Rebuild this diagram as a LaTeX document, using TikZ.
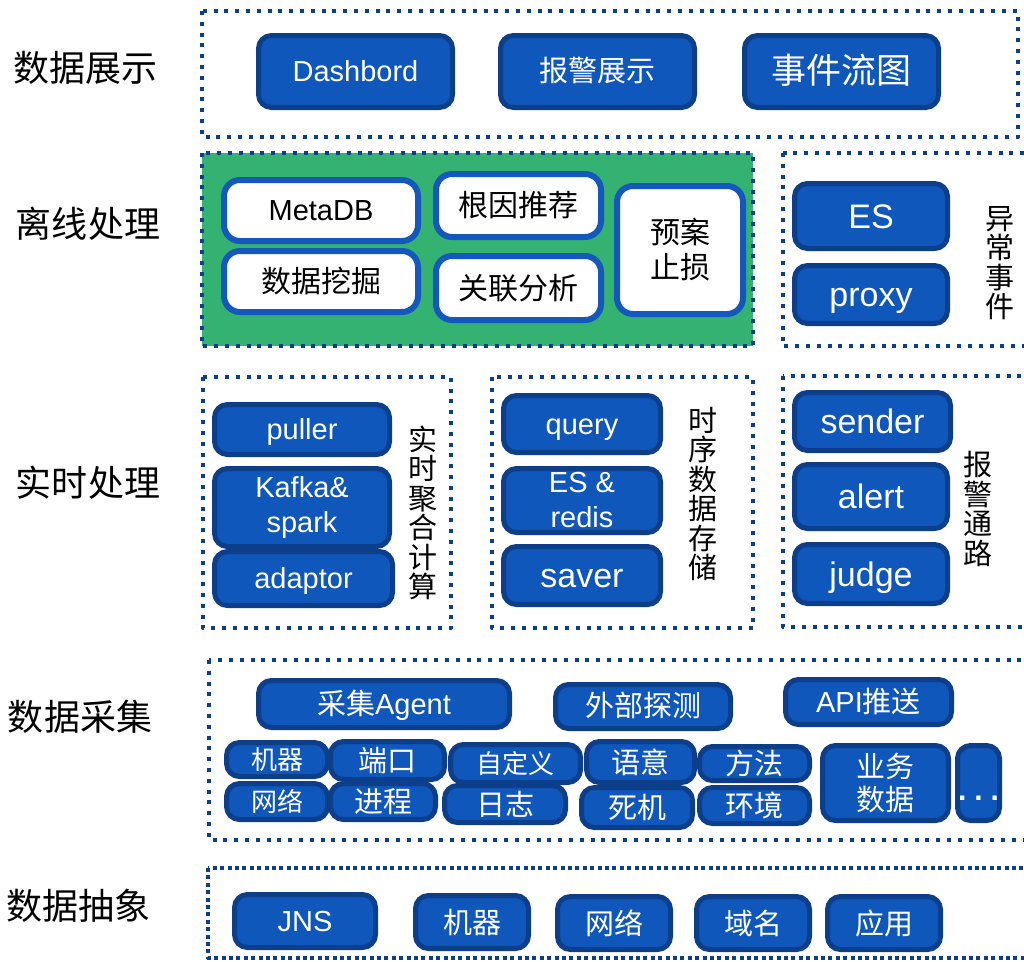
\documentclass[tikz,border=0pt]{standalone}
\usepackage{fontspec}
\setmainfont{Liberation Sans}
\newfontfamily\cjk{Noto Sans CJK SC}
\definecolor{navy}{RGB}{12,62,138}
\definecolor{nodeblue}{RGB}{15,87,186}
\definecolor{grn}{RGB}{52,178,114}
\definecolor{wborder}{RGB}{20,88,190}
\tikzset{
	layer/.style={draw=navy, line width=4pt, dash pattern=on 4pt off 6.8pt},
	blk/.style={draw=navy, fill=nodeblue, line width=5pt, rounded corners=13pt, text=white, inner sep=0pt, align=center, font=\fontsize{29}{35}\selectfont},
	wblk/.style={draw=wborder, fill=white, line width=6pt, rounded corners=16pt, inner sep=0pt, align=center, font=\cjk\fontsize{30}{35}\selectfont},
	one/.style={text height=26pt, text depth=6pt},
	onebig/.style={text height=31pt, text depth=7pt},
	zh/.style={font=\cjk\fontsize{29}{33}\selectfont},
	big/.style={font=\fontsize{34}{40}\selectfont},
	lbl/.style={font=\cjk\fontsize{36}{36}\selectfont},
	vlbl/.style={font=\cjk\fontsize{29}{29.5}\selectfont, align=center, inner sep=0pt},
}
\begin{document}
\begin{tikzpicture}[x=1pt, y=-1pt, line join=round]
	\useasboundingbox (0,0) rectangle (1024,961);
	\clip (0,0) rectangle (1024,961);
	% layer names
	\node[lbl] (l1) at (85,68) {数据展示};
	\node[lbl] (l2) at (88,224) {离线处理};
	\node[lbl] (l3) at (88,483) {实时处理};
	\node[lbl] (l4) at (80,717) {数据采集};
	\node[lbl] (l5) at (78,906) {数据抽象};
	% dotted frames
	\draw[layer] (202,11) rectangle (1018,137);
	\draw[layer, fill=grn] (202,153) rectangle (753,346);
	\draw[layer] (783,153) rectangle (1040,346);
	\draw[layer] (203,377) rectangle (451,628);
	\draw[layer] (492,377) rectangle (753,628);
	\draw[layer] (783,376) rectangle (1040,627);
	\draw[layer] (209,660) rectangle (1040,840);
	\draw[layer, dash pattern=on 4pt off 3.4pt] (208,868) rectangle (1040,958);
	% 数据展示
	\node[blk, one, minimum width=194, minimum height=72] (dash) at (355.5,71.5) {Dashbord};
	\node[blk, one, zh, minimum width=194, minimum height=72] (bjzs) at (597.5,71.5) {报警展示};
	\node[blk, onebig, font=\cjk\fontsize{35}{40}\selectfont, minimum width=194, minimum height=72] (sjlt) at (841.5,71.5) {事件流图};
	% 离线处理
	\node[wblk, one, font=\fontsize{29}{35}\selectfont, minimum width=194, minimum height=61] (meta) at (321,210.5) {MetaDB};
	\node[wblk, minimum width=194, minimum height=61] (wj) at (321,281.5) {数据挖掘};
	\node[wblk, minimum width=165, minimum height=63] (gy) at (518.5,205.5) {根因推荐};
	\node[wblk, minimum width=165, minimum height=64] (gl) at (518.5,288) {关联分析};
	\node[wblk, minimum width=126, minimum height=128] (ya) at (680,250) {预案\\止损};
	\node[blk, big, onebig, minimum width=153, minimum height=65] (es) at (871,216) {ES};
	\node[blk, big, onebig, minimum width=153, minimum height=58] (proxy) at (871,294.5) {proxy};
	\node[vlbl] (ycsj) at (1000,263) {异\\常\\事\\件};
	% 实时处理
	\node[blk, one, minimum width=175, minimum height=50] (puller) at (302,429.5) {puller};
	\node[blk, minimum width=175, minimum height=78] (kafka) at (302,507.5) {Kafka\&\\spark};
	\node[blk, one, minimum width=178, minimum height=54] (adaptor) at (303.5,578.5) {adaptor};
	\node[vlbl] (ssjh) at (423,513) {实\\时\\聚\\合\\计\\算};
	\node[blk, one, minimum width=157, minimum height=57] (query) at (582,424) {query};
	\node[blk, minimum width=157, minimum height=64] (esr) at (582,500.5) {ES \&\\redis};
	\node[blk, big, onebig, minimum width=157, minimum height=58] (saver) at (582,575.5) {saver};
	\node[vlbl] (sxcc) at (703,494) {时\\序\\数\\据\\存\\储};
	\node[blk, big, onebig, minimum width=156, minimum height=58] (sender) at (872.5,421.5) {sender};
	\node[blk, big, onebig, minimum width=153, minimum height=64] (alert) at (871,496.5) {alert};
	\node[blk, big, onebig, minimum width=153, minimum height=59] (judge) at (871,574) {judge};
	\node[vlbl] (bjtl) at (978,509) {报\\警\\通\\路};
	% 数据采集
	\node[blk, one, minimum width=251, minimum height=47] (agent) at (384,704) {{\cjk 采集}Agent};
	\node[blk, one, zh, minimum width=175, minimum height=44] (wbtc) at (643,706.5) {外部探测};
	\node[blk, one, minimum width=166, minimum height=45] (api) at (868.5,702) {API{\cjk 推送}};
	\node[blk, font=\cjk\fontsize{26}{30}\selectfont, minimum width=101, minimum height=34] (jq1) at (277,759.5) {机器};
	\node[blk, font=\cjk\fontsize{26}{30}\selectfont, minimum width=101, minimum height=36] (wl1) at (277,801.5) {网络};
	\node[blk, zh, minimum width=114, minimum height=38] (dk) at (387.5,760.5) {端口};
	\node[blk, zh, minimum width=105, minimum height=36] (jc) at (383,801.5) {进程};
	\node[blk, font=\cjk\fontsize{26}{30}\selectfont, minimum width=130, minimum height=38] (zdy) at (515.5,763.5) {自定义};
	\node[blk, zh, minimum width=121, minimum height=37] (rz) at (505,804) {日志};
	\node[blk, zh, minimum width=108, minimum height=41] (yy) at (640.5,762) {语意};
	\node[blk, zh, minimum width=111, minimum height=40] (sj) at (637,807.5) {死机};
	\node[blk, zh, minimum width=110, minimum height=34] (ff) at (754.5,763.5) {方法};
	\node[blk, zh, minimum width=110, minimum height=36] (hj) at (754.5,805.5) {环境};
	\node[blk, zh, minimum width=126, minimum height=75] (ywsj) at (885.5,783) {业务\\数据};
	\node[blk, font=\bfseries\fontsize{30}{36}\selectfont, text height=34pt, text depth=0pt, minimum width=42, minimum height=75] (etc) at (978.5,783) {.\hspace{8pt}.\hspace{8pt}.};
	% 数据抽象
	\node[blk, one, minimum width=141, minimum height=53] (jns) at (305,921) {JNS};
	\node[blk, zh, minimum width=113, minimum height=53] (jq2) at (472,922) {机器};
	\node[blk, zh, minimum width=113, minimum height=53] (wl2) at (614,923) {网络};
	\node[blk, zh, minimum width=113, minimum height=53] (ym) at (753,923) {域名};
	\node[blk, zh, minimum width=113, minimum height=53] (yyong) at (884,923) {应用};
\end{tikzpicture}
\end{document}
